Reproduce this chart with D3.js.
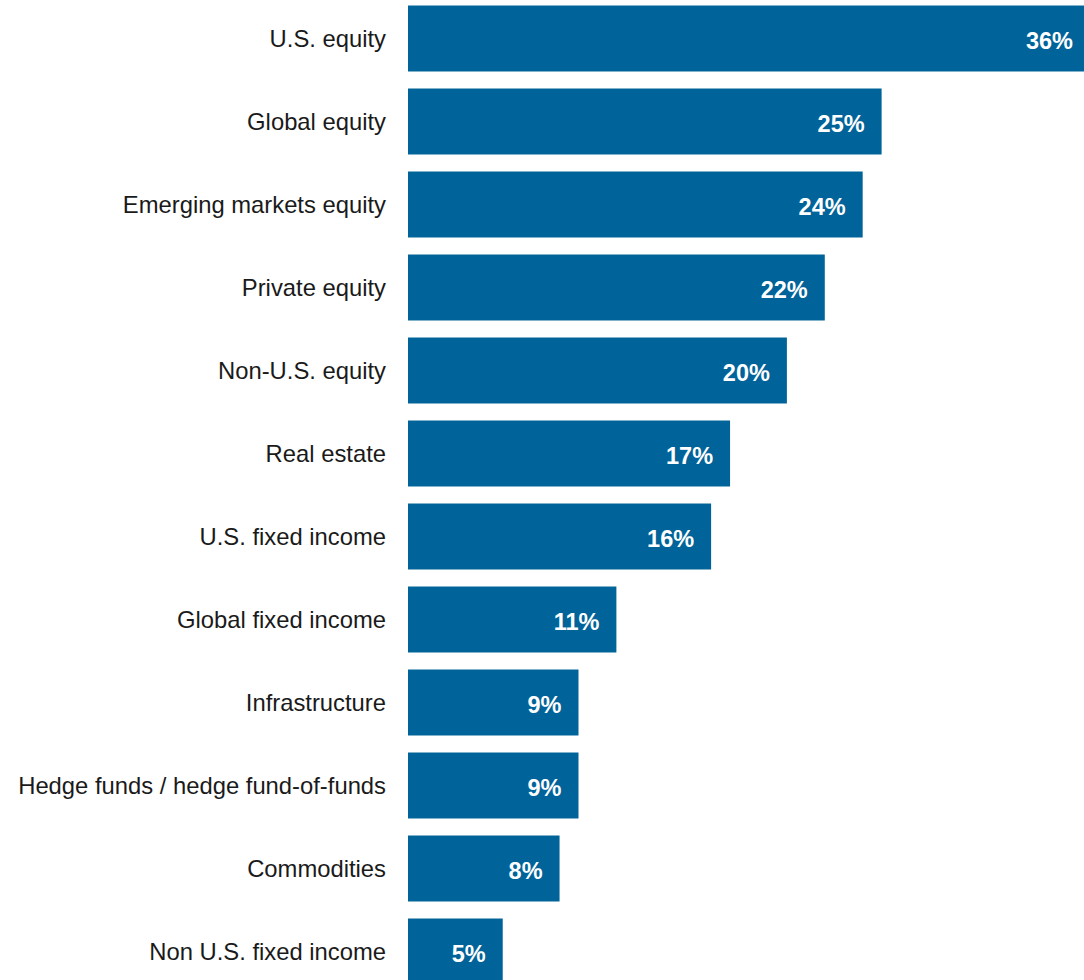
<!DOCTYPE html>
<html>
<head>
<meta charset="utf-8">
<script src="https://cdn.jsdelivr.net/npm/d3@7"></script>
<style>
  html, body { margin: 0; padding: 0; background: #ffffff; }
  svg { display: block; }
</style>
</head>
<body>
<div id="chart"></div>
<script>
// Asset class categories, top to bottom
const categories = [
  "U.S. equity",
  "Global equity",
  "Emerging markets equity",
  "Private equity",
  "Non-U.S. equity",
  "Real estate",
  "U.S. fixed income",
  "Global fixed income",
  "Infrastructure",
  "Hedge funds / hedge fund-of-funds",
  "Commodities",
  "Non U.S. fixed income"
];

// Share of respondents (%)
const values = [36, 25, 24, 22, 20, 17, 16, 11, 9, 9, 8, 5];

const width = 1084, height = 980;

const data = categories.map((c, i) => ({ category: c, value: values[i] }));

const svg = d3.select("#chart").append("svg")
  .attr("width", width)
  .attr("height", height);

const x = d3.scaleLinear()
  .domain([0, 36])
  .range([408, 1090]);

const y = d3.scaleBand()
  .domain(categories)
  .range([-3, 993])
  .paddingInner(0.205)
  .paddingOuter(0.1025);

// Bars
svg.append("g")
  .selectAll("rect")
  .data(data)
  .join("rect")
  .attr("x", x(0))
  .attr("y", d => y(d.category))
  .attr("width", d => x(d.value) - x(0))
  .attr("height", y.bandwidth())
  .attr("fill", "#006399");

// Value labels inside bar ends
svg.append("g")
  .selectAll("text")
  .data(data)
  .join("text")
  .attr("x", d => x(d.value) - 17)
  .attr("y", d => y(d.category) + y.bandwidth() / 2 + 1.5)
  .attr("dy", "0.38em")
  .attr("text-anchor", "end")
  .attr("font-family", "'Liberation Sans', Arial, sans-serif")
  .attr("font-size", 23.5)
  .attr("font-weight", "bold")
  .attr("fill", "#ffffff")
  .text(d => d.value + "%");

// Category labels on the left
const yAxis = d3.axisLeft(y).tickSize(0).tickPadding(22);
const gy = svg.append("g")
  .attr("transform", `translate(${x(0)},1)`)
  .call(yAxis);
gy.select(".domain").remove();
gy.selectAll("text")
  .attr("font-family", "'Liberation Sans', Arial, sans-serif")
  .attr("font-size", 23.8)
  .attr("fill", "#1a1a1a");
</script>
</body>
</html>
